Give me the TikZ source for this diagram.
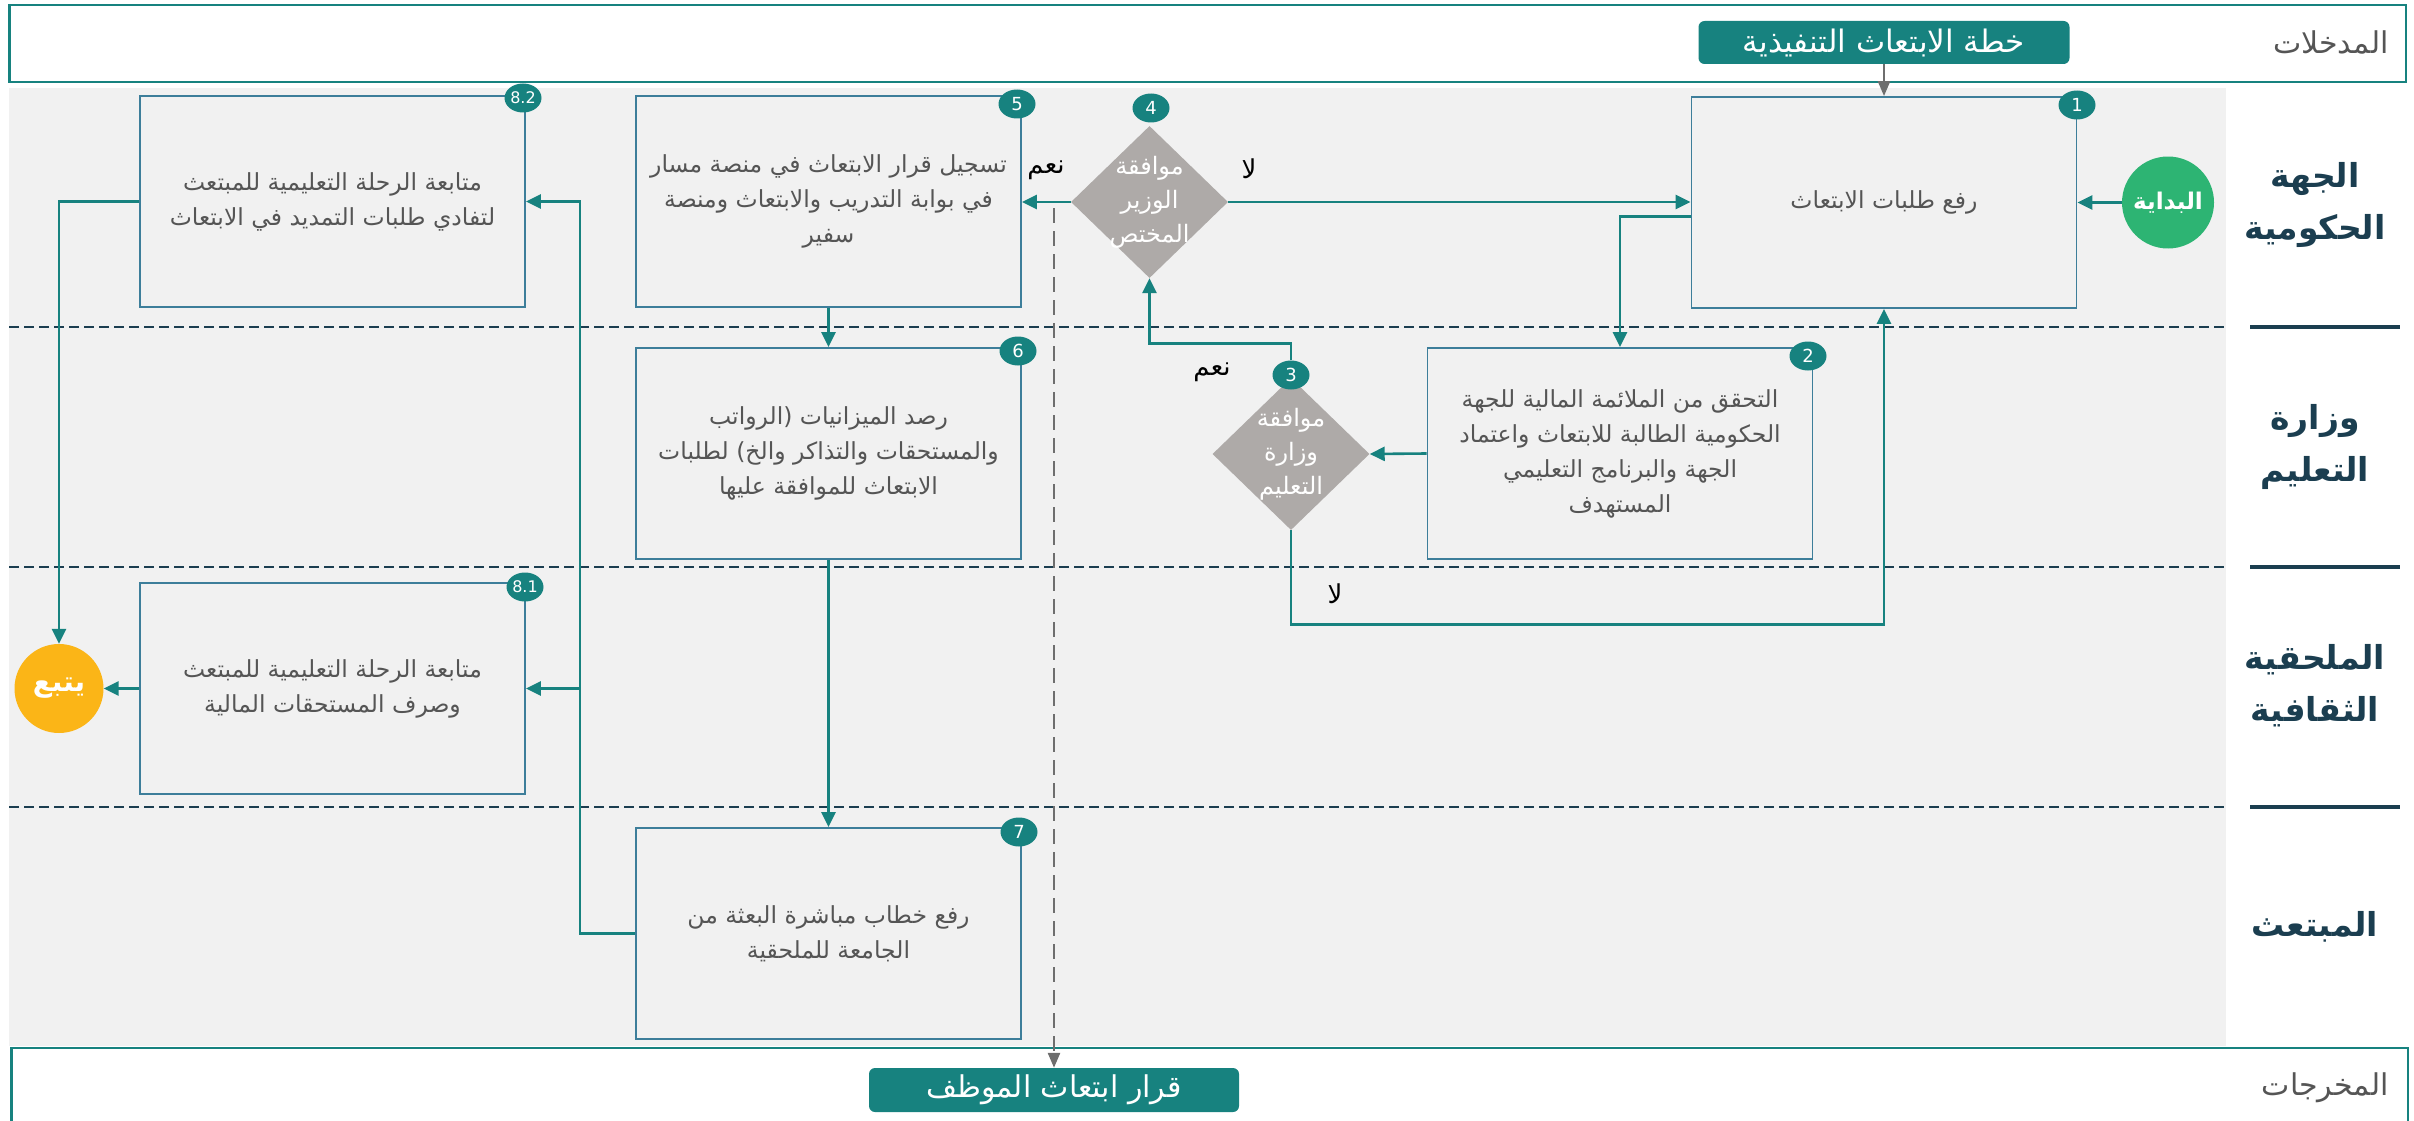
\documentclass[tikz,border=0pt]{standalone}
\usepackage{fontspec}
\usetikzlibrary{shapes.geometric,arrows.meta,calc}
\TeXXeTstate=1
\setmainfont{DejaVu Sans}
\newfontfamily\arabicfont[Script=Arabic]{DejaVu Sans}
\newcommand{\ar}[1]{{\arabicfont\beginR #1\endR}}
\definecolor{tealc}{HTML}{17827F}
\definecolor{boxline}{HTML}{3D7E9A}
\definecolor{bgc}{HTML}{F1F1F1}
\definecolor{navyc}{HTML}{1B3E50}
\definecolor{txtc}{HTML}{555555}
\definecolor{diac}{HTML}{AEAAA8}
\definecolor{greenc}{HTML}{2DB473}
\definecolor{amberc}{HTML}{FBB517}
\definecolor{arrgray}{HTML}{6E6E6E}
\tikzset{
  procbox/.style={draw=boxline, line width=1.8pt, fill=bgc, minimum width=385pt, minimum height=211pt, inner sep=0pt, text=txtc, align=center, font=\fontsize{23.5}{35}\selectfont},
  badge/.style={ellipse, fill=tealc, text=white, minimum width=37pt, minimum height=29pt, inner sep=0pt, font=\fontsize{18}{18}\selectfont},
  dia/.style={diamond, fill=diac, minimum width=157pt, minimum height=152pt, inner sep=0pt},
  diatext/.style={text=white, align=center, font=\fontsize{24}{34}\selectfont},
  conn/.style={draw=tealc, line width=2.6pt, -{Triangle[length=15pt,width=14pt]}},
  grayconn/.style={draw=arrgray, line width=2.6pt, -{Triangle[length=15pt,width=12pt]}},
  lanelabel/.style={text=navyc, align=center, font=\bfseries\fontsize{33}{52}\selectfont},
  lanesep/.style={draw=navyc, line width=2.6pt, dash pattern=on 10pt off 5pt},
  lanesolid/.style={draw=navyc, line width=4pt},
  iobox/.style={fill=tealc, text=white, rounded corners=6pt, inner sep=0pt},
  frame/.style={draw=tealc, line width=2.6pt},
  yesno/.style={text=black, font=\fontsize{26}{26}\selectfont},
  sidelabel/.style={text=txtc, anchor=east, font=\fontsize{30}{30}\selectfont},
  endpt/.style={circle, inner sep=0pt, minimum size=89pt, text=white, font=\bfseries\fontsize{23}{23}\selectfont}
}
\begin{document}
\begin{tikzpicture}[x=1pt,y=-1pt]
\useasboundingbox (0,0) rectangle (2414,1121);
% backgrounds and frames
\fill[bgc] (9,88) rectangle (2226,1046);
\draw[frame] (9.5,5) rectangle (2406,82);
\draw[frame] (11.5,1130) -- (11.5,1048) -- (2408,1048) -- (2408,1130);
% lane separators
\foreach \yy in {327,567,807} {
  \draw[lanesep] (9,\yy) -- (2226,\yy);
  \draw[lanesolid] (2250,\yy) -- (2400,\yy);
}
% side labels
\node[sidelabel] (inlbl) at (2392,42) {\ar{المدخلات}};
\node[sidelabel] (outlbl) at (2392,1088) {\ar{المخرجات}};
\node[lanelabel] (lane1) at (2315,205) {\ar{الجهة}\\\ar{الحكومية}};
\node[lanelabel] (lane2) at (2315,447) {\ar{وزارة}\\\ar{التعليم}};
\node[lanelabel] (lane3) at (2315,686) {\ar{الملحقية}\\\ar{الثقافية}};
\node[lanelabel] (lane4) at (2315,927) {\ar{المبتعث}};
% io labels
\node[iobox, minimum width=371pt, minimum height=43pt, font=\fontsize{31}{31}\selectfont] (inbox) at (1884,42.5) {\ar{خطة الابتعاث التنفيذية}};
\node[iobox, minimum width=370pt, minimum height=44pt, font=\fontsize{30}{30}\selectfont] (outbox) at (1054,1090) {\ar{قرار ابتعاث الموظف}};
% process boxes
\node[procbox] (b1) at (1884,202.5) {\ar{رفع طلبات الابتعاث}};
\node[procbox] (b2) at (1620,453.5) {\ar{التحقق من الملائمة المالية للجهة}\\\ar{الحكومية الطالبة للابتعاث واعتماد}\\\ar{الجهة والبرنامج التعليمي}\\\ar{المستهدف}};
\node[procbox] (b5) at (828.5,201.5) {\ar{تسجيل قرار الابتعاث في منصة مسار}\\\ar{في بوابة التدريب والابتعاث ومنصة}\\\ar{سفير}};
\node[procbox] (b6) at (828.5,453.5) {\ar{رصد الميزانيات (الرواتب}\\\ar{والمستحقات والتذاكر والخ) لطلبات}\\\ar{الابتعاث للموافقة عليها}};
\node[procbox] (b7) at (828.5,933.5) {\ar{رفع خطاب مباشرة البعثة من}\\\ar{الجامعة للملحقية}};
\node[procbox] (b82) at (332.5,201.5) {\ar{متابعة الرحلة التعليمية للمبتعث}\\\ar{لتفادي طلبات التمديد في الابتعاث}};
\node[procbox] (b81) at (332.5,688.5) {\ar{متابعة الرحلة التعليمية للمبتعث}\\\ar{وصرف المستحقات المالية}};
% decisions
\node[dia] (d4) at (1149.5,202) {};
\node[diatext] (d4t) at (1149.5,202) {\ar{موافقة}\\\ar{الوزير}\\\ar{المختص}};
\node[dia] (d3) at (1291,454) {};
\node[diatext] (d3t) at (1291,454) {\ar{موافقة}\\\ar{وزارة}\\\ar{التعليم}};
% start / end
\node[endpt, fill=greenc, minimum size=92pt] (start) at (2168,202.5) {\ar{البداية}};
\node[endpt, fill=amberc, font=\bfseries\fontsize{28}{28}\selectfont] (follow) at (59,688.5) {\ar{يتبع}};
% badges
\node[badge] (n1) at (2077,105) {1};
\node[badge] (n2) at (1808,356) {2};
\node[badge] (n3) at (1291,375) {3};
\node[badge] (n4) at (1151,108) {4};
\node[badge] (n5) at (1017,104) {5};
\node[badge] (n6) at (1018,351) {6};
\node[badge] (n7) at (1019,832) {7};
\node[badge, font=\fontsize{16}{16}\selectfont] (n81) at (525,587) {8.1};
\node[badge, font=\fontsize{16}{16}\selectfont] (n82) at (523,98) {8.2};
% connectors
\draw[grayconn] (inbox.south) -- (b1.north);
\draw[conn] (start.west) -- (start.west -| b1.east);
\draw[conn] ([yshift=-14pt]b1.west) -| (b2.north);
\draw[conn] (b2.west) -- (d3.east);
\draw[conn] (n3.north) -- ++(0,-17) -| (d4.south);
\draw[conn] (d3.south) -- ++(0,94) -| (b1.south);
\draw[conn] (d4.east) -- (d4.east -| b1.west);
\draw[conn] (d4.west) -- (d4.west -| b5.east);
\draw[conn] (b5.south) -- (b6.north);
\draw[conn] (b6.south) -- (b7.north);
\coordinate (j) at (580,933.5);
\draw[conn] (b7.west) -- (j) |- (b82.east);
\draw[conn] (j |- b81.east) -- (b81.east);
\draw[conn] (b82.west) -| (follow.north);
\draw[conn] (b81.west) -- (follow.east);
\coordinate (dtop) at (1054,208);
\draw[grayconn, dash pattern=on 15pt off 8pt] (dtop) -- (outbox.north);
% yes/no labels
\node[yesno] (y3) at (1212,372) {\ar{نعم}};
\node[yesno] (n3l) at (1335,594) {\ar{لا}};
\node[yesno] (n4l) at (1249,169) {\ar{لا}};
\node[yesno] (y4) at (1046,170) {\ar{نعم}};
\end{tikzpicture}
\end{document}
